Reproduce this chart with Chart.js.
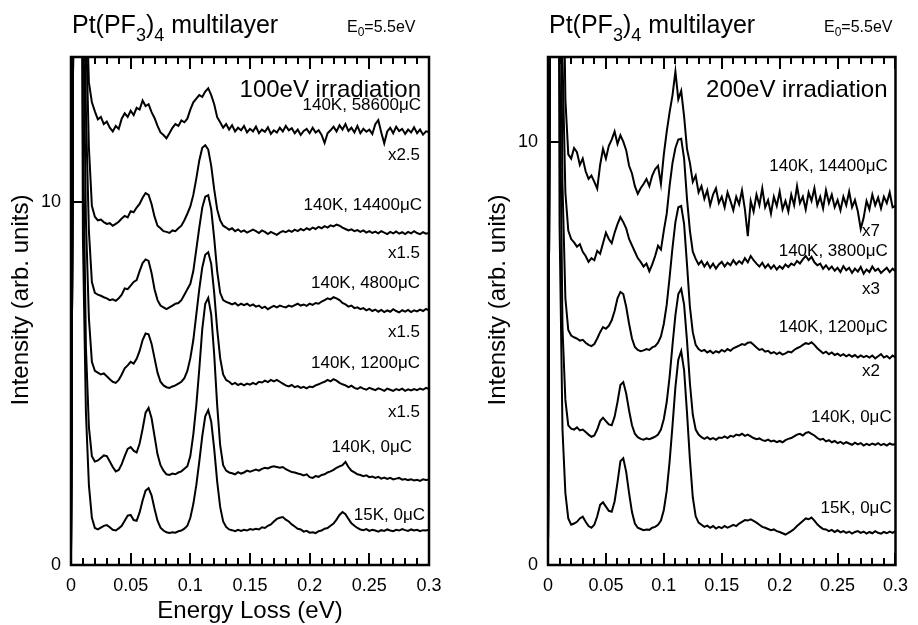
<!DOCTYPE html>
<html>
<head>
<meta charset="utf-8">
<script src="https://cdn.jsdelivr.net/npm/chart.js@4.4.1/dist/chart.umd.min.js"></script>
<style>
html, body { margin: 0; padding: 0; background: #fff; }
canvas { position: absolute; top: 0; }
#left { left: 0; }
#right { left: 478px; }
</style>
</head>
<body>
<canvas id="left" width="459" height="625"></canvas>
<canvas id="right" width="440" height="625"></canvas>
<script>
const FONT = '"Liberation Sans", Arial, Helvetica, sans-serif';

// Energy-loss sampling grid (eV)
const energy = [
  0, 0.0025, 0.005, 0.0075, 0.01, 0.0125, 0.015, 0.0175, 0.02, 0.0225,
  0.025, 0.0275, 0.03, 0.0325, 0.035, 0.0375, 0.04, 0.0425, 0.045, 0.0475,
  0.05, 0.0525, 0.055, 0.0575, 0.06, 0.0625, 0.065, 0.0675, 0.07, 0.0725,
  0.075, 0.0775, 0.08, 0.0825, 0.085, 0.0875, 0.09, 0.0925, 0.095, 0.0975,
  0.1, 0.1025, 0.105, 0.1075, 0.11, 0.1125, 0.115, 0.1175, 0.12, 0.1225,
  0.125, 0.1275, 0.13, 0.1325, 0.135, 0.1375, 0.14, 0.1425, 0.145, 0.1475,
  0.15, 0.1525, 0.155, 0.1575, 0.16, 0.1625, 0.165, 0.1675, 0.17, 0.1725,
  0.175, 0.1775, 0.18, 0.1825, 0.185, 0.1875, 0.19, 0.1925, 0.195, 0.1975,
  0.2, 0.2025, 0.205, 0.2075, 0.21, 0.2125, 0.215, 0.2175, 0.22, 0.2225,
  0.225, 0.2275, 0.23, 0.2325, 0.235, 0.2375, 0.24, 0.2425, 0.245, 0.2475,
  0.25, 0.2525, 0.255, 0.2575, 0.26, 0.2625, 0.265, 0.2675, 0.27, 0.2725,
  0.275, 0.2775, 0.28, 0.2825, 0.285, 0.2875, 0.29, 0.2925, 0.295, 0.2975,
  0.3
];

const xTickValues = [0, 0.05, 0.1, 0.15, 0.2, 0.25, 0.3];
const xTickLabels = ['0', '0.05', '0.1', '0.15', '0.2', '0.25', '0.3'];
const xMinorTicks = [
  0, 0.01, 0.02, 0.03, 0.04, 0.05, 0.06, 0.07, 0.08, 0.09, 0.1,
  0.11, 0.12, 0.13, 0.14, 0.15, 0.16, 0.17, 0.18, 0.19, 0.2,
  0.21, 0.22, 0.23, 0.24, 0.25, 0.26, 0.27, 0.28, 0.29, 0.3
];
const yTickValues = [0, 10];
const yTickLabels = ['0', '10'];

// ---- 100 eV irradiation (offset, scaled spectra) ----
const e100_15K_0uC = [
  0.3, 20, 70, 30, 9, 4.2, 2.2, 1.3,
  1.02, 0.98, 1.03, 1.08, 1.10, 1.04, 0.97, 0.95, 1.01, 1.08,
  1.22, 1.36, 1.38, 1.24, 1.22, 1.45, 1.78, 2.05, 2.12, 1.92,
  1.55, 1.22, 1.03, 0.95, 0.9, 0.88, 0.9, 0.89, 0.93, 0.95,
  1.0, 1.08, 1.3, 1.68, 2.2, 2.85, 3.55, 4.1, 4.27, 3.95,
  3.2, 2.3, 1.6, 1.2, 1.05, 0.98, 0.96, 0.93, 0.97, 0.94,
  0.97, 0.95, 0.99, 0.97, 1.0, 0.98, 1.04, 1.02, 1.08, 1.12,
  1.2, 1.27, 1.3, 1.32, 1.25, 1.2, 1.12, 1.06, 1.0, 0.98,
  0.92, 0.94, 0.89, 0.9, 0.88, 0.93, 0.95, 1.0, 1.02, 1.08,
  1.14, 1.25, 1.38, 1.46, 1.4, 1.27, 1.15, 1.08, 1.02, 0.98,
  0.96, 0.99, 0.94, 0.97, 0.95, 0.92, 0.96, 0.94, 0.98, 0.95,
  0.93, 0.97, 0.95, 0.99, 0.96, 0.94, 0.98, 0.95, 0.97, 0.93,
  0.96, 0.95, 0.97
];
const e100_140K_0uC = [
  0.3, 20, 70, 32, 12, 6.0, 3.8, 3.0,
  2.85, 2.88, 2.95, 3.02, 3.0, 2.85, 2.7, 2.58, 2.62, 2.78,
  3.0, 3.2, 3.25, 3.15, 3.1, 3.35, 3.75, 4.2, 4.33, 4.05,
  3.55, 3.05, 2.75, 2.6, 2.5, 2.48, 2.52, 2.5, 2.55, 2.58,
  2.65, 2.72, 3.0, 3.6, 4.4, 5.4, 6.5, 7.2, 7.36, 6.9,
  5.8, 4.4, 3.3, 2.75, 2.6, 2.55, 2.53, 2.5, 2.56, 2.52,
  2.55, 2.6, 2.57, 2.6, 2.63, 2.6, 2.65, 2.68, 2.66, 2.7,
  2.72, 2.7, 2.68, 2.7, 2.64, 2.6, 2.56, 2.55, 2.52, 2.5,
  2.47, 2.5, 2.42, 2.4, 2.45, 2.43, 2.48, 2.5, 2.55, 2.58,
  2.62, 2.68, 2.72, 2.75, 2.84, 2.7, 2.6, 2.55, 2.5, 2.48,
  2.45, 2.47, 2.42, 2.44, 2.4, 2.43, 2.38, 2.41, 2.37, 2.4,
  2.36, 2.38, 2.4, 2.35, 2.37, 2.34, 2.36, 2.33, 2.35, 2.32,
  2.36, 2.34, 2.35
];
const e100_140K_1200uC = [
  0.3, 20, 70, 35, 16, 9.5, 6.8, 5.6,
  5.35, 5.3, 5.25, 5.28, 5.2, 5.12, 5.05, 5.02, 5.1, 5.25,
  5.42, 5.5, 5.6, 5.55, 5.68, 5.9, 6.2, 6.38, 6.36, 6.1,
  5.7, 5.3, 5.05, 4.95, 4.9, 4.88, 4.92, 4.95, 5.0, 5.05,
  5.15, 5.35, 5.7, 6.2, 6.9, 7.6, 8.2, 8.55, 8.62, 8.3,
  7.5, 6.5, 5.7, 5.25, 5.1, 5.05, 4.98, 5.02, 4.96, 5.0,
  4.95, 5.0, 4.97, 5.02, 4.98, 5.05, 5.03, 5.08, 5.04, 5.1,
  5.06, 5.1, 5.05, 5.0, 4.95, 4.92, 4.96, 4.9, 4.93, 4.88,
  4.91, 4.87, 4.92, 4.9, 4.95, 4.98, 5.02, 5.05, 5.1, 5.06,
  5.12, 5.08, 5.02, 4.98, 4.95, 4.9, 4.94, 4.88, 4.85, 4.9,
  4.86, 4.83, 4.88, 4.85, 4.82, 4.87, 4.84, 4.8, 4.86, 4.83,
  4.8, 4.85, 4.82, 4.86, 4.8, 4.84, 4.81, 4.85, 4.82, 4.86,
  4.83, 4.88, 4.85
];
const e100_140K_4800uC = [
  0.3, 20, 70, 40, 20, 12.5, 9.2, 7.8,
  7.5, 7.45, 7.42, 7.38, 7.35, 7.3, 7.32, 7.28, 7.35, 7.45,
  7.62, 7.6, 7.7, 7.8, 7.85, 8.1, 8.32, 8.42, 8.38, 8.05,
  7.6, 7.3, 7.15, 7.1, 7.05, 7.1, 7.15, 7.2, 7.22, 7.3,
  7.45, 7.6, 7.75, 8.1, 8.7, 9.3, 9.85, 10.15, 10.19, 9.8,
  9.0, 8.1, 7.5, 7.3, 7.25, 7.22, 7.18, 7.22, 7.15, 7.2,
  7.16, 7.2, 7.14, 7.18, 7.12, 7.15, 7.08, 7.12, 7.05, 7.1,
  7.14, 7.1, 7.15, 7.12, 7.1, 7.15, 7.12, 7.16, 7.2, 7.15,
  7.18, 7.14, 7.2, 7.17, 7.22, 7.2, 7.26, 7.3, 7.35, 7.32,
  7.38, 7.35, 7.3, 7.22, 7.18, 7.12, 7.15, 7.08, 7.1, 7.05,
  7.08, 7.02, 7.06, 7.0, 7.04, 6.98, 7.03, 6.97, 7.02, 6.98,
  7.05, 7.0, 6.96, 7.02, 6.98, 7.03, 6.97, 7.02, 6.99, 7.04,
  7.0, 7.06, 7.02
];
const e100_140K_14400uC = [
  0.3, 20, 70, 45, 25, 15, 11.5, 9.9,
  9.6, 9.5, 9.52, 9.45, 9.4, 9.42, 9.35, 9.4, 9.46, 9.55,
  9.62, 9.58, 9.75, 9.72, 9.85, 9.95, 10.12, 10.25, 10.2, 9.95,
  9.6, 9.35, 9.28, 9.2, 9.18, 9.15, 9.22, 9.2, 9.28, 9.35,
  9.5, 9.68, 9.88, 10.2, 10.65, 11.15, 11.5, 11.57, 11.45, 11.0,
  10.35, 9.8, 9.5, 9.35, 9.3, 9.24, 9.28, 9.2, 9.25, 9.18,
  9.22, 9.16, 9.2, 9.24, 9.2, 9.15, 9.22, 9.18, 9.12, 9.18,
  9.14, 9.1, 9.16, 9.2, 9.17, 9.22, 9.18, 9.24, 9.2, 9.26,
  9.22, 9.28, 9.24, 9.3, 9.26, 9.32, 9.28, 9.34, 9.3, 9.36,
  9.33, 9.38, 9.35, 9.3, 9.26, 9.22, 9.25, 9.2, 9.23, 9.18,
  9.22, 9.16, 9.2, 9.15, 9.19, 9.14, 9.2, 9.16, 9.12, 9.18,
  9.14, 9.19, 9.13, 9.17, 9.12, 9.18, 9.14, 9.2, 9.15, 9.12,
  9.17, 9.13, 9.15
];
const e100_140K_58600uC = [
  0.3, 20, 70, 50, 30, 16, 13.3, 12.75,
  12.5, 12.28, 12.35, 12.15, 12.22, 12.05, 11.95, 12.1, 12.02, 12.3,
  12.45, 12.35, 12.52, 12.4, 12.6, 12.55, 12.8, 12.65, 12.7, 12.48,
  12.32, 12.1, 11.92, 11.85, 11.76, 11.9, 12.05, 12.15, 12.1, 12.25,
  12.2, 12.3, 12.55, 12.75, 12.85, 12.95, 12.9, 13.05, 13.14, 12.95,
  12.7, 12.34, 12.2, 12.05, 12.15, 12.0, 12.12, 11.95, 12.05, 11.98,
  12.1, 11.92, 12.02, 11.95, 12.08, 11.9, 12.0, 11.94, 12.06, 11.88,
  11.98, 11.92, 12.05, 11.95, 12.1, 11.98, 12.04, 11.9, 12.0, 11.85,
  11.96, 12.02, 11.9, 12.05, 11.92, 11.98, 11.85, 11.63, 11.9, 11.98,
  12.08, 11.95, 12.12, 12.0, 12.15, 11.96, 12.05, 11.92, 12.1, 11.9,
  12.02, 11.94, 12.0, 11.88, 12.15, 12.26, 11.92, 11.62, 11.95, 12.05,
  11.9, 12.08, 11.96, 12.02, 11.88, 12.0, 11.92, 12.06, 11.9, 12.0,
  11.86, 11.95, 11.93
];

// ---- 200 eV irradiation (offset, scaled spectra) ----
const e200_15K_0uC = [
  0.3, 20, 70, 30, 8, 3.2, 1.7, 1.1,
  0.95, 0.98, 1.02, 1.1, 1.14, 1.02, 0.92, 0.88, 0.95, 1.15,
  1.42, 1.48, 1.38, 1.28, 1.26, 1.5, 1.95, 2.45, 2.52, 2.2,
  1.7, 1.25, 0.98, 0.88, 0.85, 0.82, 0.84, 0.83, 0.88, 0.9,
  0.95, 1.05, 1.3, 1.75, 2.45, 3.3, 4.2, 4.85, 5.05, 4.6,
  3.6, 2.5, 1.6, 1.15, 1.0, 0.95, 0.9, 0.93, 0.88, 0.92,
  0.86, 0.9, 0.87, 0.92, 0.88, 0.91, 0.95, 0.92, 0.98, 1.02,
  1.06, 1.05, 1.08, 1.04, 1.0, 0.95, 0.9, 0.88, 0.85, 0.82,
  0.84, 0.8, 0.78, 0.75, 0.72, 0.76, 0.8, 0.85, 0.92, 0.98,
  1.04, 1.1, 1.08, 1.12, 1.05, 0.96, 0.9, 0.85, 0.84, 0.8,
  0.83, 0.78, 0.82, 0.77, 0.8, 0.76, 0.79, 0.74, 0.78, 0.8,
  0.76, 0.79, 0.74, 0.78, 0.75, 0.8, 0.76, 0.74, 0.78, 0.75,
  0.79, 0.76, 0.8
];
const e200_140K_0uC = [
  0.3, 20, 70, 35, 12, 5.6, 3.9, 3.3,
  3.22, 3.2, 3.25, 3.18, 3.2, 3.14, 3.08, 3.03, 3.06, 3.2,
  3.4, 3.48, 3.4, 3.32, 3.3, 3.5, 3.85, 4.25, 4.32, 4.05,
  3.65, 3.3, 3.1, 3.02, 2.98, 2.96, 2.99, 2.97, 3.0, 3.03,
  3.08, 3.2, 3.45, 3.85, 4.45, 5.2, 5.9, 6.4, 6.52, 6.15,
  5.3, 4.3, 3.55, 3.2, 3.08, 3.02, 2.98, 3.02, 2.97, 3.0,
  2.96, 3.01, 3.0, 3.04, 3.0, 3.05, 3.03, 3.08, 3.06, 3.1,
  3.05, 3.08, 3.04, 3.0, 2.97, 2.99, 2.95, 2.93, 2.96, 2.92,
  2.94, 2.9, 2.93, 2.9, 2.95, 2.98, 3.0, 3.04, 3.08, 3.1,
  3.06, 3.12, 3.14, 3.1, 3.06, 3.0, 2.96, 2.98, 2.92, 2.95,
  2.9, 2.93, 2.88, 2.91, 2.86, 2.9, 2.87, 2.84, 2.89, 2.85,
  2.88, 2.82, 2.86, 2.83, 2.87, 2.84, 2.88, 2.83, 2.86, 2.82,
  2.87, 2.84, 2.86
];
const e200_140K_1200uC = [
  0.3, 20, 70, 40, 18, 9.0, 6.3, 5.55,
  5.42, 5.38, 5.35, 5.3, 5.32, 5.25, 5.2, 5.17, 5.22, 5.35,
  5.5, 5.62, 5.58, 5.65, 5.78, 6.0, 6.3, 6.45, 6.4, 6.1,
  5.7, 5.35, 5.15, 5.08, 5.05, 5.07, 5.1, 5.08, 5.14, 5.17,
  5.25, 5.4, 5.7, 6.15, 6.8, 7.5, 8.1, 8.45, 8.48, 8.05,
  7.1, 6.1, 5.5, 5.2, 5.1, 5.05, 5.08, 5.02, 5.06, 5.0,
  5.05, 5.02, 5.08, 5.04, 5.1, 5.06, 5.12, 5.15, 5.18, 5.22,
  5.2, 5.25, 5.26, 5.2, 5.14, 5.08, 5.1, 5.04, 5.06, 5.0,
  5.03, 4.98, 5.02, 4.97, 5.0, 5.04, 5.02, 5.08, 5.12, 5.15,
  5.2, 5.24, 5.22, 5.26, 5.2, 5.12, 5.06, 5.0, 5.04, 4.98,
  5.02, 4.96, 4.99, 4.94, 4.98, 4.93, 4.97, 4.92, 4.96, 4.9,
  4.95, 4.91, 4.94, 4.9, 4.95, 4.88, 4.93, 4.98, 4.9, 4.94,
  4.88, 4.95, 4.9
];
const e200_140K_3800uC = [
  0.3, 20, 70, 45, 22, 12, 8.8, 7.9,
  7.7, 7.62, 7.52, 7.58, 7.4, 7.3, 7.16, 7.25, 7.2, 7.42,
  7.35, 7.6, 7.85, 7.7, 7.6, 7.85, 8.05, 8.22, 8.1, 7.95,
  7.7, 7.55, 7.4, 7.25, 7.16, 7.05, 7.12, 6.94, 7.1, 7.3,
  7.54, 7.45, 7.9, 8.3, 8.96, 9.5, 9.85, 10.05, 10.07, 9.6,
  8.65, 7.9, 7.4, 7.23, 7.1, 7.18, 7.05, 7.15, 7.02, 7.12,
  7.0, 7.1, 7.16, 7.05, 7.14, 7.08, 7.2, 7.1, 7.18, 7.12,
  7.25, 7.15, 7.3, 7.2, 7.12, 7.05, 7.14, 7.02, 7.1, 7.0,
  7.08, 6.98, 7.06, 7.0, 7.1, 7.04, 7.12, 7.08, 7.18, 7.12,
  7.22, 7.3, 7.2, 7.28, 7.15, 7.08, 7.12, 7.0, 7.08, 6.98,
  7.05, 6.95, 7.02, 6.92, 7.06, 6.96, 7.02, 6.9, 7.0, 6.93,
  7.04, 6.88, 6.98, 6.92, 7.05, 6.95, 7.0, 6.9, 6.96, 7.02,
  6.92, 7.0, 6.94
];
const e200_140K_14400uC = [
  0.3, 20, 70, 50, 30, 16, 11, 9.7,
  9.6, 9.85, 9.75, 9.45, 9.6, 9.3, 9.12, 9.2, 9.05, 8.89,
  9.45, 9.83, 9.6, 9.9, 10.05, 10.24, 9.95, 10.15, 10.0, 9.8,
  9.43, 9.25, 8.95, 8.77, 8.9, 9.0, 9.12, 8.95, 9.2, 9.35,
  9.43, 9.0, 9.7, 10.24, 10.7, 11.1, 11.66, 11.0, 11.2, 10.6,
  9.83, 9.5, 9.05, 9.2, 8.8, 8.95, 8.65, 8.85, 8.5, 8.75,
  8.9, 8.55, 8.7, 8.45, 8.8, 8.6, 8.38, 8.7, 8.52, 8.85,
  8.4, 7.77, 8.6, 8.35, 8.75, 8.5, 8.9, 8.45, 8.62, 8.3,
  8.7, 8.48, 8.82, 8.4, 8.6, 8.35, 8.75, 8.5, 8.95, 8.55,
  8.7, 8.4, 8.8, 8.6, 8.9, 8.5, 8.7, 8.42, 8.85, 8.55,
  8.75, 8.45, 8.62, 8.38, 8.7, 8.5, 8.82, 8.45, 8.62, 8.35,
  7.94, 8.2, 8.6, 8.4, 8.75, 8.5, 8.68, 8.42, 8.7, 8.55,
  8.8, 8.45, 8.48
];

// Curve annotations (anchored at the right end of the text, in data units)
const labels100 = [
  { text: '140K, 58600\u03bcC', x: 0.2933, y: 12.67 },
  { text: 'x2.5', x: 0.2925, y: 11.29 },
  { text: '140K, 14400\u03bcC', x: 0.2942, y: 9.92 },
  { text: 'x1.5', x: 0.2925, y: 8.6 },
  { text: '140K, 4800\u03bcC', x: 0.2925, y: 7.77 },
  { text: 'x1.5', x: 0.2925, y: 6.42 },
  { text: '140K, 1200\u03bcC', x: 0.2925, y: 5.56 },
  { text: 'x1.5', x: 0.2925, y: 4.21 },
  { text: '140K, 0\u03bcC', x: 0.2858, y: 3.25 },
  { text: '15K, 0\u03bcC', x: 0.2967, y: 1.38 }
];
const labels200 = [
  { text: '140K, 14400\u03bcC', x: 0.2933, y: 9.41 },
  { text: 'x7', x: 0.2866, y: 7.89 },
  { text: '140K, 3800\u03bcC', x: 0.2933, y: 7.42 },
  { text: 'x3', x: 0.2866, y: 6.52 },
  { text: '140K, 1200\u03bcC', x: 0.2933, y: 5.62 },
  { text: 'x2', x: 0.2866, y: 4.57 },
  { text: '140K, 0\u03bcC', x: 0.2967, y: 3.48 },
  { text: '15K, 0\u03bcC', x: 0.2967, y: 1.35 }
];

function drawRich(ctx, parts, x, y) {
  ctx.textAlign = 'left';
  ctx.textBaseline = 'alphabetic';
  for (const p of parts) {
    ctx.font = p.size + 'px ' + FONT;
    ctx.fillText(p.t, x, y + (p.dy || 0));
    x += ctx.measureText(p.t).width;
  }
}

// Frame, inward ticks and all panel text
function panelDecor(cfg) {
  return {
    id: 'panelDecor',
    afterDraw(chart) {
      const ctx = chart.ctx;
      const a = chart.chartArea;
      const sx = chart.scales.x;
      const sy = chart.scales.y;
      ctx.save();
      ctx.fillStyle = '#000';
      ctx.strokeStyle = '#000';

      ctx.lineWidth = 2.5;
      ctx.strokeRect(a.left, a.top, a.right - a.left, a.bottom - a.top);

      xMinorTicks.forEach((v, k) => {
        const px = Math.round(sx.getPixelForValue(v));
        const len = k % 5 === 0 ? 12 : 7;
        ctx.fillRect(px - 1, a.bottom - len, 2, len);
        ctx.fillRect(px - 1, a.top, 2, len);
      });
      yTickValues.forEach(v => {
        const py = Math.round(sy.getPixelForValue(v));
        ctx.fillRect(a.left, py - 1, 11, 2);
      });

      drawRich(ctx, [
        { t: 'Pt(PF', size: 25 },
        { t: '3', size: 18, dy: 8 },
        { t: ')', size: 25 },
        { t: '4', size: 18, dy: 8 },
        { t: ' multilayer', size: 25 }
      ], a.left + 1, 33);
      drawRich(ctx, [
        { t: 'E', size: 16 },
        { t: '0', size: 12, dy: 4 },
        { t: '=5.5eV', size: 16 }
      ], a.left + 276, 32);

      ctx.font = '24px ' + FONT;
      ctx.textAlign = 'right';
      ctx.textBaseline = 'alphabetic';
      ctx.fillText(cfg.heading, a.right - 8, 97);

      ctx.font = '17px ' + FONT;
      ctx.textBaseline = 'middle';
      for (const l of cfg.labels) {
        ctx.fillText(l.text, sx.getPixelForValue(l.x), sy.getPixelForValue(l.y));
      }

      ctx.font = '24px ' + FONT;
      ctx.textAlign = 'center';
      ctx.save();
      ctx.translate(a.left - 50, 300);
      ctx.rotate(-Math.PI / 2);
      ctx.fillText('Intensity (arb. units)', 0, 0);
      ctx.restore();
      if (cfg.xTitle) {
        ctx.fillText(cfg.xTitle, (a.left + a.right) / 2, 611);
      }
      ctx.restore();
    }
  };
}

function makeChart(id, cfg) {
  const datasets = cfg.series.map(s => ({
    data: energy.map((e, i) => ({ x: e, y: s[i] })),
    borderColor: '#000',
    borderWidth: 2,
    pointRadius: 0,
    fill: false,
    tension: 0
  }));
  return new Chart(document.getElementById(id), {
    type: 'line',
    data: { datasets },
    options: {
      responsive: false,
      animation: false,
      devicePixelRatio: 1,
      layout: { padding: { top: 57, right: cfg.padRight } },
      plugins: { legend: { display: false }, tooltip: { enabled: false } },
      scales: {
        x: {
          type: 'linear', min: 0, max: 0.3,
          grid: { display: false, drawTicks: false },
          border: { display: false },
          afterBuildTicks: sc => { sc.ticks = xTickValues.map(v => ({ value: v })); },
          afterFit: sc => { sc.height = 60; },
          ticks: {
            padding: 10, color: '#000', maxRotation: 0, autoSkip: false,
            font: { family: FONT, size: 18 },
            callback: (v, i) => xTickLabels[i]
          }
        },
        y: {
          type: 'linear', min: 0, max: cfg.yMax,
          grid: { display: false, drawTicks: false },
          border: { display: false },
          afterBuildTicks: sc => { sc.ticks = yTickValues.map(v => ({ value: v })); },
          afterFit: sc => { sc.width = cfg.axisWidth; },
          ticks: {
            padding: 10, color: '#000', autoSkip: false,
            font: { family: FONT, size: 18 },
            callback: (v, i) => yTickLabels[i]
          }
        }
      }
    },
    plugins: [panelDecor(cfg)]
  });
}

makeChart('left', {
  series: [e100_15K_0uC, e100_140K_0uC, e100_140K_1200uC, e100_140K_4800uC, e100_140K_14400uC, e100_140K_58600uC],
  labels: labels100,
  heading: '100eV irradiation',
  xTitle: 'Energy Loss (eV)',
  yMax: 14,
  axisWidth: 71,
  padRight: 30
});

makeChart('right', {
  series: [e200_15K_0uC, e200_140K_0uC, e200_140K_1200uC, e200_140K_3800uC, e200_140K_14400uC],
  labels: labels200,
  heading: '200eV irradiation',
  xTitle: null,
  yMax: 12,
  axisWidth: 70,
  padRight: 12
});
</script>
</body>
</html>
